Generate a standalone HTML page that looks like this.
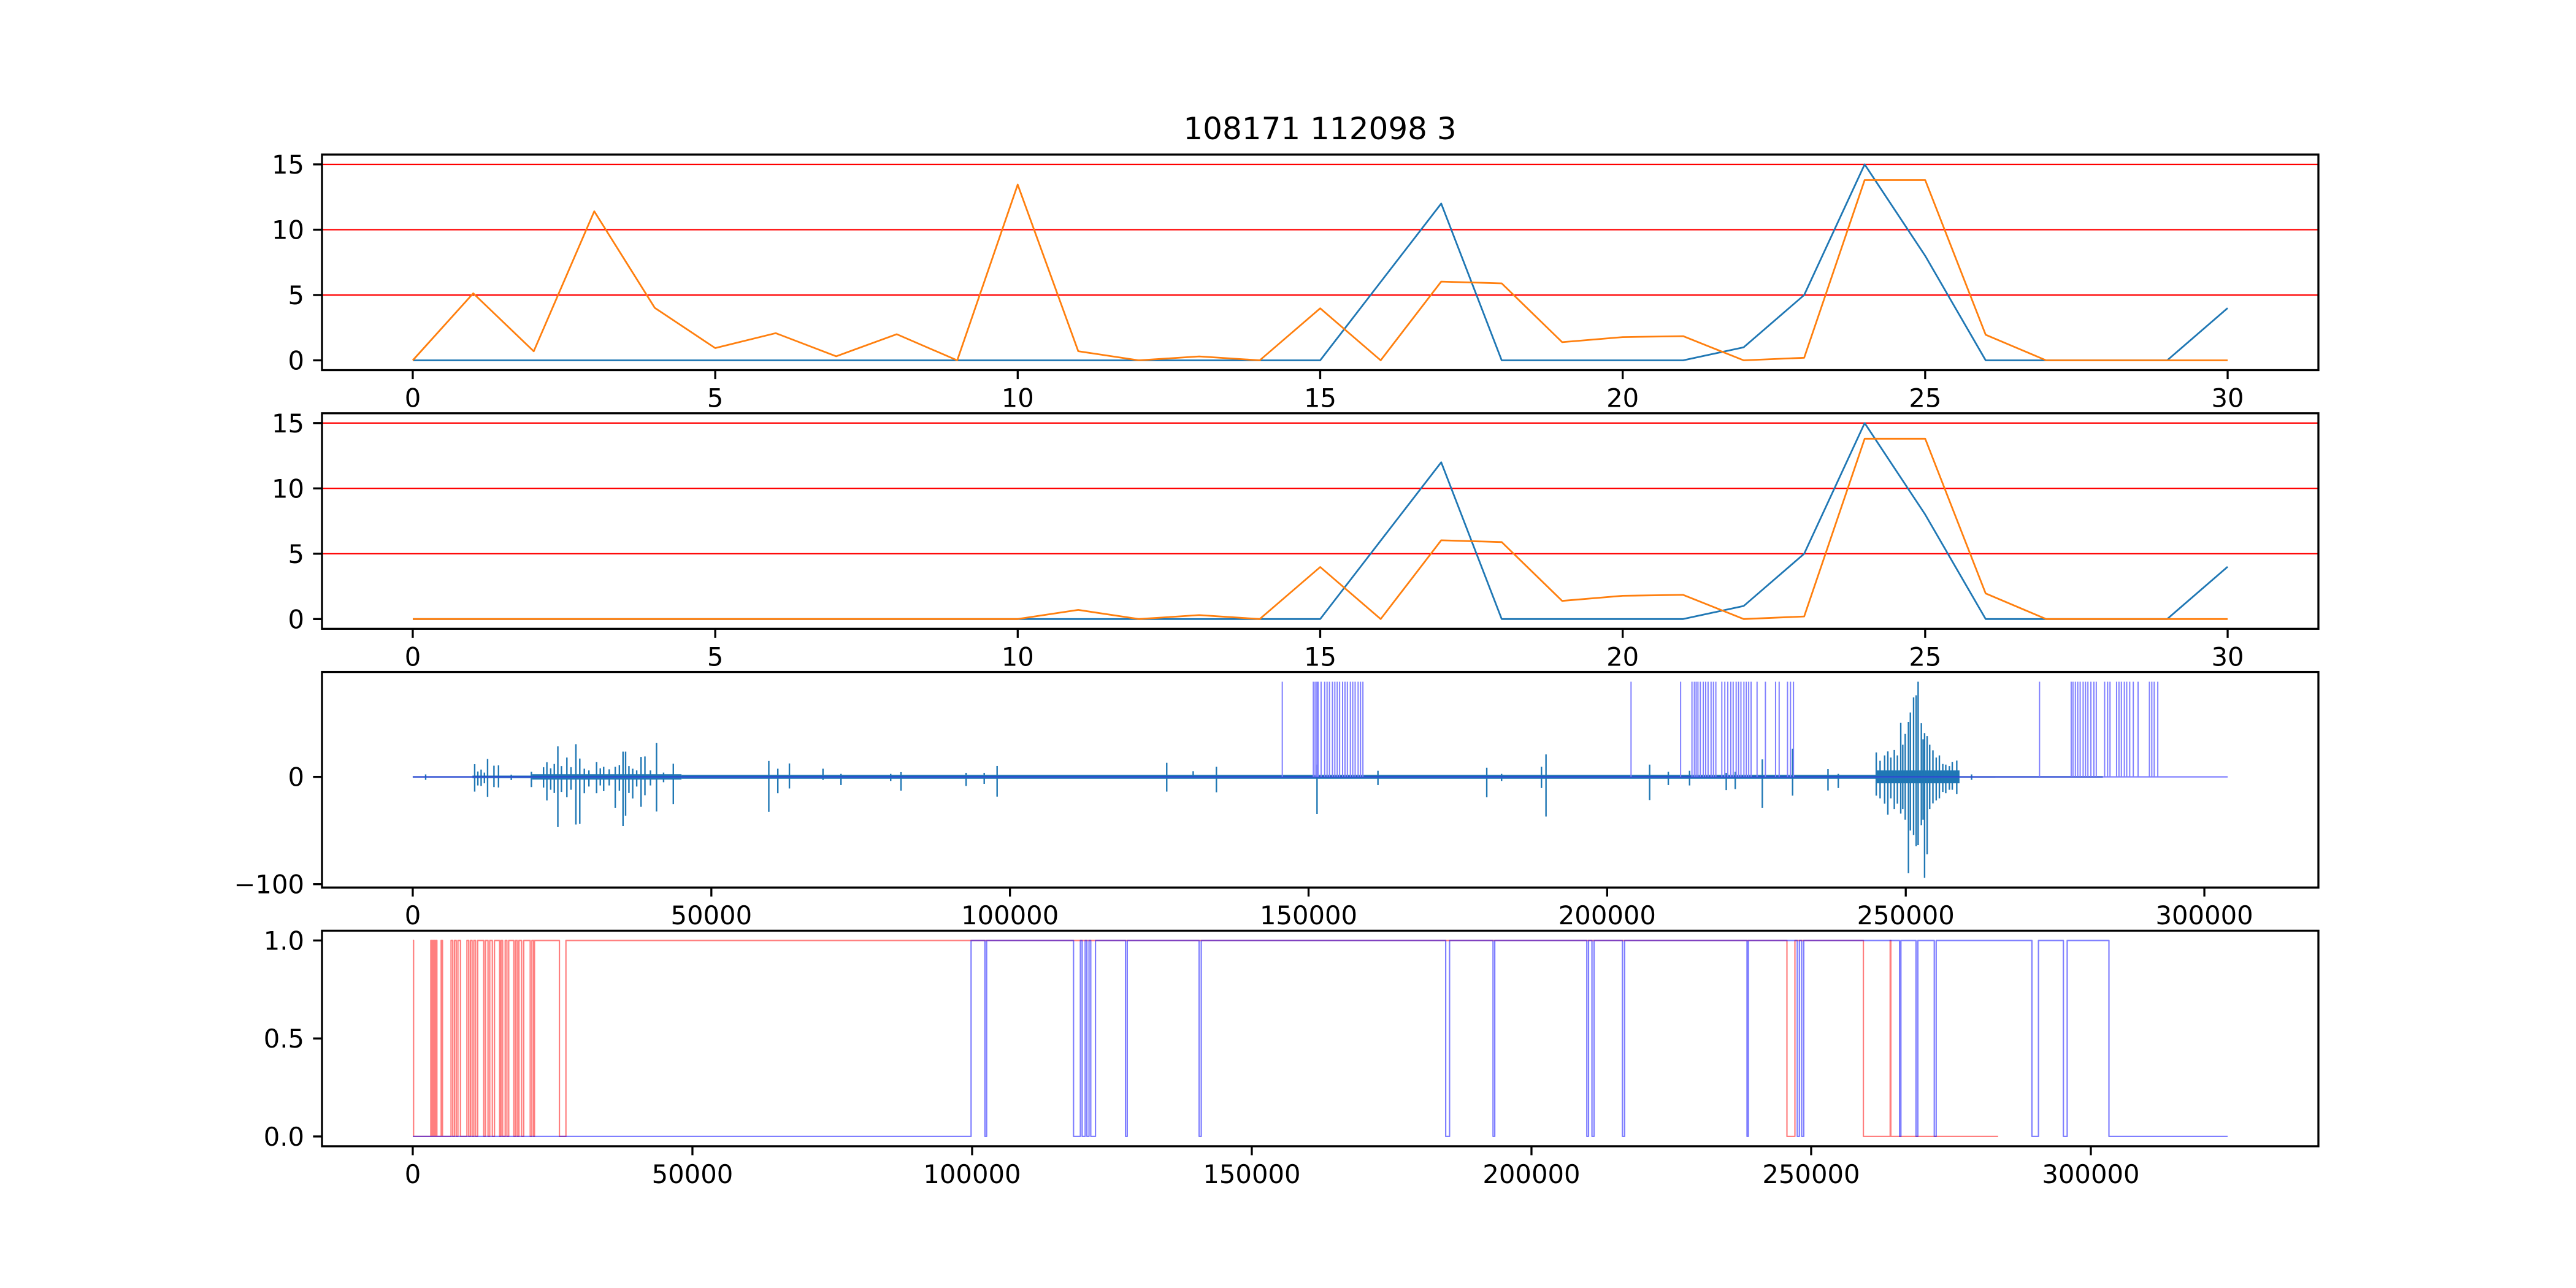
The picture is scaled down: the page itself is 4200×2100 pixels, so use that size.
<!DOCTYPE html>
<html><head><meta charset="utf-8"><style>
html,body{margin:0;padding:0;background:#fff}
svg{display:block}
text{font-family:"DejaVu Sans","Liberation Sans",sans-serif;font-size:41.7px;fill:#000}
</style></head>
<body>
<svg id="fig" width="4200" height="2100" viewBox="0 0 4200 2100" xmlns="http://www.w3.org/2000/svg">
<rect width="4200" height="2100" fill="#fff"/>
<text x="2152" y="227" text-anchor="middle" style="font-size:50px">108171 112098 3</text>
</svg>
<script>
// ---- data ----
const epochs = [0,1,2,3,4,5,6,7,8,9,10,11,12,13,14,15,16,17,18,19,20,21,22,23,24,25,26,27,28,29,30];
const blueCounts = [0,0,0,0,0,0,0,0,0,0,0,0,0,0,0,0,6,12,0,0,0,0,1,5,15,8,0,0,0,0,4];
const orangeScores1 = [0,5.13,0.69,11.41,4.02,0.94,2.08,0.31,2.0,0,13.45,0.7,0,0.3,0,3.98,0,6.03,5.89,1.39,1.78,1.85,0,0.2,13.8,13.8,1.96,0,0,0,0];
const orangeScores2 = [0,0,0,0,0,0,0,0,0,0,0,0.7,0,0.3,0,3.98,0,6.03,5.89,1.39,1.78,1.85,0,0.2,13.8,13.8,1.96,0,0,0,0];
const thresholdLevels = [5,10,15];
const epochTicks = [0,5,10,15,20,25,30];
const countTicks = [0,5,10,15];
// waveform: [x, up, down]
const waveSpikes = [[2160,2.3,-2.8],[10370,11.8,-13.7],[10900,5,-8],[11450,6.8,-8.5],[12000,4,-6],[12530,16.7,-18.6],[13600,10.4,-9.5],[14360,10.8,-9.9],[16500,2,-3],[19870,4.7,-9.5],[21900,9,-10],[22460,13.7,-22],[23100,8,-12],[23700,12,-15],[24300,28.5,-46.5],[24900,10,-14],[25810,18,-19],[26500,9,-12],[27320,30.4,-44.4],[27970,17.1,-43.6],[28730,7.6,-15.2],[29500,6,-9],[30780,13.9,-15.2],[31400,8,-8],[31970,9.5,-13.3],[32900,7,-8],[33910,9.5,-28.8],[34600,11,-13],[35210,23.5,-45.9],[35640,23.5,-36.1],[36200,10,-15],[36830,7.6,-20.1],[37500,6,-9],[38230,18.6,-27.9],[38880,19,-17.1],[39800,6,-8],[40820,31.7,-32.3],[42000,4,-5],[43630,12.3,-25.4],[59620,14.8,-32.6],[61130,7.6,-15.2],[63070,12.5,-10.8],[68690,7.6,-2.8],[71710,2.8,-7.6],[80030,2.8,-3.8],[81760,4.4,-12.9],[92660,3.8,-8.5],[95690,3.8,-6.5],[97850,10.1,-18.4],[126250,13.1,-13.7],[130680,5.3,0],[134570,9.5,-14.4],[151420,11.4,-34.5],[161620,5.7,-7.6],[179840,8.5,-19],[182320,2.8,-3.8],[189000,9.5,-10.4],[189760,20.9,-37],[207110,11.4,-21.6],[210240,4.7,-7.6],[213800,5.7,-8],[219940,3.8,-12.3],[221450,4.7,-11.4],[225980,16.3,-28.8],[231050,26.2,-17.5],[236980,7.2,-12.7],[238700,2.8,-10.4],[245060,22.8,-17.5],[245700,15,-20],[246460,20,-25],[247000,23.7,-35.3],[247500,18,-20],[248080,25,-30],[248600,20,-25],[249160,50.3,-34.2],[249500,30,-30],[249910,40,-40],[250450,51.2,-89.6],[250770,60,-50],[251310,74,-54.1],[251740,76,-64.5],[252070,88.6,-63.6],[252610,50,-45],[252900,35,-40],[253150,40.8,-94],[253580,38,-72.1],[254010,30,-30],[254550,24.7,-24.7],[255100,18,-22],[255630,20,-20],[256200,12,-14],[256700,11.4,-15.2],[257300,10,-12],[257790,14,-12],[258540,15.2,-16.1],[261020,2.3,-2.8]];
const waveBands = [[0,10000,0.6],[10000,20000,1.2],[20000,45000,2.5],[45000,245000,1.8],[245000,259000,6],[259000,265000,0.6]];
const markerPositions = [145600,150800,151100,151400,151600,152100,152700,153100,153500,154000,154400,154800,155200,155700,156100,156500,157000,157400,157800,158300,158700,159100,204000,212300,214200,214600,214900,215200,215600,216100,216500,216900,217400,217800,218200,219200,219700,220200,220700,221100,221600,222000,222400,222900,223300,223700,224100,225100,226500,228200,228800,230200,230700,231200,272400,277700,278000,278400,278800,279200,279700,280100,280500,281000,281500,281900,283300,283800,284200,285300,285700,286100,286600,287000,287500,288100,288900,290800,291200,291600,292200];
const markerHeight = 88.6;
const waveEnd = 303900;
const markerBaseEnd = 283000;
const waveXTicks = [0,50000,100000,150000,200000,250000,300000];
const waveYTicks = [-100,0];
// step series: "on" intervals (value 1)
const redOn = [[0,150],[3230,3380],[3540,3690],[3850,4000],[4150,4310],[5080,5310],[6850,7150],[7460,7770],[8070,8540],[9690,10000],[10300,10610],[10920,11230],[11610,12690],[13000,13460],[13770,14230],[14610,15530],[15770,16070],[16530,16840],[17150,18070],[18380,18690],[18990,19460],[19840,21000],[21300,21610],[21760,26220],[27380,245670],[247100,259340],[264130,264250]];
const redEnd = 283430;
const blueOff = [[118130,119360],[119670,120210],[120520,120900],[121210,122050],[127430,127740],[140590,140970],[184660,185350],[193130,193440],[209890,210200],[210810,211190],[216270,216650],[238530,238780],[247510,247900],[248300,248680],[265800,266050],[268740,269070],[272010,272350],[289470,290640],[295090,295770]];
const blueOnStart = 99820, blueOffStart = 102280, blueOnAgain = 102590, blueFinalOff = 303240, blueEnd = 324460;
const stepXTicks = [0,50000,100000,150000,200000,250000,300000];
const stepYTicks = [0,0.5,1];
const stepYLabels = ["0.0","0.5","1.0"];

// ---- drawing ----
const NS="http://www.w3.org/2000/svg";
const svg=document.getElementById('fig');
function mk(tag,attrs,parent){const e=document.createElementNS(NS,tag);for(const k in attrs)e.setAttribute(k,attrs[k]);(parent||svg).appendChild(e);return e;}
const L=525,R=3780,H=351.5,tops=[252,673.8,1095.6,1517.4];
function axis(i,xmin,xmax,ymin,ymax){const t=tops[i];return{x:v=>L+(v-xmin)/(xmax-xmin)*(R-L),y:v=>t+H-(v-ymin)/(ymax-ymin)*H,t:t,b:t+H};}
function frame(a,name,xt,xl,yt,yl){
  const g=mk('g',{});
  
  
  const clip=mk('clipPath',{id:'c'+name},g);mk('rect',{x:L,y:a.t,width:R-L,height:H},clip);
  const plot=mk('g',{'clip-path':'url(#c'+name+')'},g);
  
  
  xt.forEach((v,k)=>{const X=a.x(v);
    const tk=mk('line',{x1:X,x2:X,y1:a.b,y2:a.b+14.6,stroke:'#000','stroke-width':3.3},g);
    
    
    const tx=mk('text',{x:X,y:a.b+60,'text-anchor':'middle'},g);tx.textContent=xl[k];
    
    });
  yt.forEach((v,k)=>{const Y=a.y(v);
    const tk=mk('line',{x1:L-14.6,x2:L,y1:Y,y2:Y,stroke:'#000','stroke-width':3.3},g);
    
    
    const tx=mk('text',{x:L-29,y:Y+15,'text-anchor':'end'},g);tx.textContent=yl[k];
    
    });
  return {g,plot};
}
function border(g,a){const r=mk('rect',{x:L,y:a.t,width:R-L,height:H,fill:'none',stroke:'#000','stroke-width':3.3},g);
  
  }
function poly(parent,pts,color,w,name){const p=mk('polyline',{points:pts.map(q=>q[0].toFixed(1)+','+q[1].toFixed(1)).join(' '),fill:'none',stroke:color,'stroke-width':w,'stroke-linejoin':'round'},parent);
  
  return p;}

// panels 1 & 2
[orangeScores1,orangeScores2].forEach((orange,i)=>{
  const a=axis(i,-1.5,31.5,-0.75,15.75);
  const f=frame(a,'epoch-panel-'+(i+1),epochTicks,epochTicks.map(String),countTicks,countTicks.map(String));
  thresholdLevels.forEach(v=>{const l=mk('line',{x1:L,x2:R,y1:a.y(v),y2:a.y(v),stroke:'#ff0000','stroke-width':2.2},f.plot);
    
    });
  poly(f.plot,epochs.map((e,k)=>[a.x(e),a.y(blueCounts[k])]),'#1f77b4',2.8,'blue-count-line');
  poly(f.plot,epochs.map((e,k)=>[a.x(e),a.y(orange[k])]),'#ff7f0e',2.8,'orange-score-line');
  border(f.g,a);
});

// panel 3 waveform
(function(){
  const a=axis(2,-0.05*waveEnd,1.05*waveEnd,-103.1,97.7);
  const f=frame(a,'waveform-panel',waveXTicks,waveXTicks.map(String),waveYTicks,waveYTicks.map(v=>v<0?'\u2212'+(-v):String(v)));
  waveBands.forEach(b=>{const r=mk('rect',{x:a.x(b[0]),y:a.y(b[2]),width:a.x(b[1])-a.x(b[0]),height:a.y(-b[2])-a.y(b[2]),fill:'#1f77b4'},f.plot);
    
    });
  waveSpikes.forEach(s=>{const X=a.x(s[0]);const l=mk('line',{x1:X,x2:X,y1:a.y(s[1]),y2:a.y(s[2]),stroke:'#1f77b4','stroke-width':2.4},f.plot);
    
    });
  const base=mk('line',{x1:a.x(0),x2:a.x(waveEnd),y1:a.y(0),y2:a.y(0),stroke:'#8080ff','stroke-width':2.2},f.plot);
  
  
  const base2=mk('line',{x1:a.x(0),x2:a.x(markerBaseEnd),y1:a.y(0),y2:a.y(0),stroke:'#2848d0','stroke-width':2.2},f.plot);
  
  
  markerPositions.forEach(m=>{const X=a.x(m);const l=mk('line',{x1:X,x2:X,y1:a.y(0),y2:a.y(markerHeight),stroke:'#8080ff','stroke-width':2},f.plot);
    
    });
  border(f.g,a);
})();

// panel 4 step series
(function(){
  const a=axis(3,-0.05*blueEnd,1.05*blueEnd,-0.05,1.05);
  const f=frame(a,'step-panel',stepXTicks,stepXTicks.map(String),stepYTicks,stepYLabels);
  let pts=[];let prev=0;
  redOn.forEach(iv=>{if(iv[0]>prev||pts.length==0){if(pts.length==0&&iv[0]==0){pts.push([0,1]);}else{pts.push([prev,0]);pts.push([iv[0],0]);pts.push([iv[0],1]);}}
    pts.push([iv[1],1]);pts.push([iv[1],0]);prev=iv[1];});
  pts.push([redEnd,0]);
  poly(f.plot,pts.map(p=>[a.x(p[0]),a.y(p[1])]),'rgba(255,0,0,0.5)',2.2,'red-state-line');
  let bp=[[0,0],[blueOnStart,0],[blueOnStart,1],[blueOffStart,1],[blueOffStart,0],[blueOnAgain,0],[blueOnAgain,1]];
  blueOff.forEach(iv=>{bp.push([iv[0],1]);bp.push([iv[0],0]);bp.push([iv[1],0]);bp.push([iv[1],1]);});
  bp.push([blueFinalOff,1]);bp.push([blueFinalOff,0]);bp.push([blueEnd,0]);
  poly(f.plot,bp.map(p=>[a.x(p[0]),a.y(p[1])]),'rgba(0,0,255,0.5)',2.2,'blue-state-line');
  border(f.g,a);
})();
</script>
</body></html>
